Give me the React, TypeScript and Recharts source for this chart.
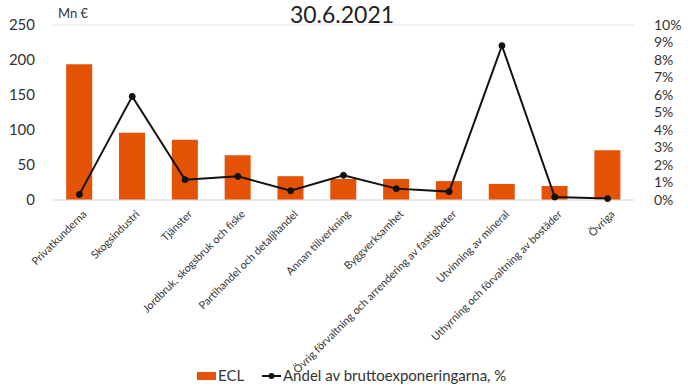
import React from "react";
import {
  ComposedChart,
  Bar,
  Line,
  XAxis,
  YAxis,
  CartesianGrid,
  Legend,
} from "recharts";

const categories = [
  "Privatkunderna",
  "Skogsindustri",
  "Tjänster",
  "Jordbruk, skogsbruk och fiske",
  "Partihandel och detaljhandel",
  "Annan tillverkning",
  "Byggverksamhet",
  "Övrig förvaltning och arrendering av fastigheter",
  "Utvinning av mineral",
  "Uthyrning och förvaltning av bostäder",
  "Övriga",
];

const eclValues = [194, 96, 86, 64, 34, 30, 30, 27, 23, 20, 71];
const sharePct = [0.32, 5.92, 1.16, 1.35, 0.53, 1.41, 0.65, 0.48, 8.82, 0.17, 0.08];

const leftTicks = [0, 50, 100, 150, 200, 250];
const rightTicks = [0, 1, 2, 3, 4, 5, 6, 7, 8, 9, 10];

const data = categories.map((name, i) => ({
  name,
  ecl: eclValues[i],
  share: sharePct[i],
}));

const FONT = "Lato, 'Open Sans', sans-serif";
const ORANGE = "#E35205";
const TEXT = "#333333";

const CategoryTick = (props: any) => {
  const { x, y, payload } = props;
  return (
    <g transform={`translate(${x + 5},${y + 4})`}>
      <text
        x={0}
        y={0}
        dy={4}
        textAnchor="end"
        transform="rotate(-45)"
        fontSize={10.8}
        fill={TEXT}
        fontFamily={FONT}
      >
        {payload.value}
      </text>
    </g>
  );
};

const LegendContent = () => (
  <svg width={688} height={24} style={{ display: "block" }}>
    <rect x={197} y={8} width={19} height={8} fill={ORANGE} />
    <text x={218} y={17} fontSize={15} fill={TEXT} fontFamily={FONT}>
      ECL
    </text>
    <line x1={262} y1={12} x2={281} y2={12} stroke="#111" strokeWidth={2} />
    <circle cx={271.5} cy={12} r={3} fill="#111" />
    <text x={283} y={17} fontSize={15} fill={TEXT} fontFamily={FONT}>
      Andel av bruttoexponeringarna, %
    </text>
  </svg>
);

export default function App() {
  return (
    <div
      style={{
        position: "absolute",
        left: 0,
        top: 0,
        width: 688,
        height: 390,
        background: "#fff",
        fontFamily: FONT,
      }}
    >
      <ComposedChart
        width={688}
        height={390}
        data={data}
        margin={{ top: 25, right: 0, bottom: 2, left: 0 }}
        barCategoryGap="25%"
      >
        <text
          x={342}
          y={23}
          textAnchor="middle"
          fontSize={23}
          fill="#222"
          fontFamily={FONT}
        >
          30.6.2021
        </text>
        <text x={58} y={18} fontSize={13} fill={TEXT} fontFamily={FONT}>
          Mn €
        </text>
        <CartesianGrid vertical={false} stroke="#e6e6e6" />
        <XAxis
          dataKey="name"
          interval={0}
          height={164}
          tick={<CategoryTick />}
          tickLine={false}
          axisLine={{ stroke: "#e0e0e0" }}
        />
        <YAxis
          yAxisId="left"
          domain={[0, 250]}
          ticks={leftTicks}
          interval={0}
          width={53}
          axisLine={false}
          tickLine={false}
          tick={{ fontSize: 15, fill: TEXT, fontFamily: FONT }}
          tickMargin={12}
        />
        <YAxis
          yAxisId="right"
          orientation="right"
          domain={[0, 10]}
          ticks={rightTicks}
          interval={0}
          tickFormatter={(v: number) => `${v}%`}
          width={54}
          axisLine={false}
          tickLine={false}
          tick={{ fontSize: 14, fill: TEXT, fontFamily: FONT, textAnchor: "start" }}
          tickMargin={14}
        />
        <Legend verticalAlign="bottom" height={24} content={<LegendContent />} />
        <Bar
          yAxisId="left"
          dataKey="ecl"
          fill={ORANGE}
          isAnimationActive={false}
        />
        <Line
          yAxisId="right"
          dataKey="share"
          stroke="#111"
          strokeWidth={2}
          dot={{ r: 3, fill: "#111", stroke: "#111", strokeWidth: 1 }}
          isAnimationActive={false}
        />
      </ComposedChart>
    </div>
  );
}
